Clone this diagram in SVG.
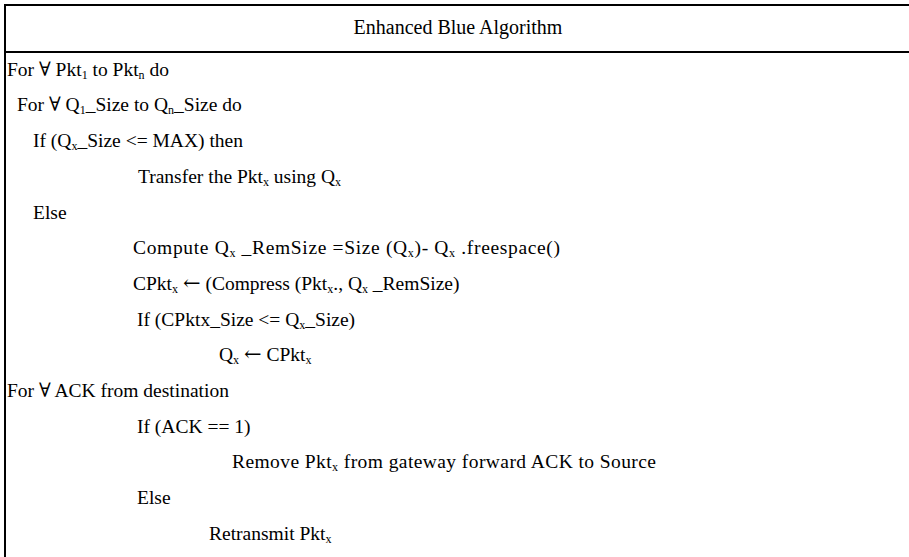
<svg xmlns="http://www.w3.org/2000/svg" width="909" height="557" viewBox="0 0 909 557">
<style>
text{font-family:"Liberation Serif","DejaVu Serif",serif;font-size:19.5px;fill:#000}
.t{font-size:20px}
.s{font-size:12px}
.a{font-family:"DejaVu Serif",serif;font-size:21px}
.rule{stroke:#000;stroke-width:2;fill:none}
</style>
<rect x="0" y="0" width="909" height="557" fill="#fff"/>
<g id="frame">
<line class="rule" x1="4" y1="5" x2="909" y2="5"/>
<line class="rule" x1="4" y1="52" x2="909" y2="52"/>
<line class="rule" x1="5" y1="4" x2="5" y2="557"/>
</g>
<g id="title"><text class="t" x="458" y="34" text-anchor="middle">Enhanced Blue Algorithm</text></g>
<g id="body">
<text x="7" y="76">For ∀ Pkt<tspan class="s" dy="3">1</tspan><tspan dy="-3"> to Pkt</tspan><tspan class="s" dy="3">n</tspan><tspan dy="-3"> do</tspan></text>
<text x="17" y="111">For ∀ Q<tspan class="s" dy="3">1</tspan><tspan dy="-3">_Size to Q</tspan><tspan class="s" dy="3">n</tspan><tspan dy="-3">_Size do</tspan></text>
<text x="33" y="147">If (Q<tspan class="s" dy="3">x</tspan><tspan dy="-3">_Size &lt;= MAX) then</tspan></text>
<text x="138" y="183">Transfer the Pkt<tspan class="s" dy="3">x</tspan><tspan dy="-3"> using Q</tspan><tspan class="s" dy="3">x</tspan></text>
<text x="33" y="219">Else</text>
<text x="133" y="254" textLength="427" lengthAdjust="spacing">Compute Q<tspan class="s" dy="3">x</tspan><tspan dy="-3"> _RemSize =Size (Q</tspan><tspan class="s" dy="3">x</tspan><tspan dy="-3">)- Q</tspan><tspan class="s" dy="3">x</tspan><tspan dy="-3"> .freespace()</tspan></text>
<text x="133" y="290">CPkt<tspan class="s" dy="3">x</tspan><tspan dy="-3"> </tspan><tspan class="a">←</tspan><tspan> (Compress (Pkt</tspan><tspan class="s" dy="3">x</tspan><tspan dy="-3">., Q</tspan><tspan class="s" dy="3">x</tspan><tspan dy="-3"> _RemSize)</tspan></text>
<text x="137" y="326">If (CPktx_Size &lt;= Q<tspan class="s" dy="3">x</tspan><tspan dy="-3">_Size)</tspan></text>
<text x="219" y="361">Q<tspan class="s" dy="3">x</tspan><tspan dy="-3"> </tspan><tspan class="a">←</tspan><tspan> CPkt</tspan><tspan class="s" dy="3">x</tspan></text>
<text x="7" y="397">For ∀ ACK from destination</text>
<text x="137" y="433">If (ACK == 1)</text>
<text x="232" y="468" textLength="424" lengthAdjust="spacing">Remove Pkt<tspan class="s" dy="3">x</tspan><tspan dy="-3"> from gateway forward ACK to Source</tspan></text>
<text x="137" y="504">Else</text>
<text x="209" y="540">Retransmit Pkt<tspan class="s" dy="3">x</tspan></text>
</g>
</svg>
